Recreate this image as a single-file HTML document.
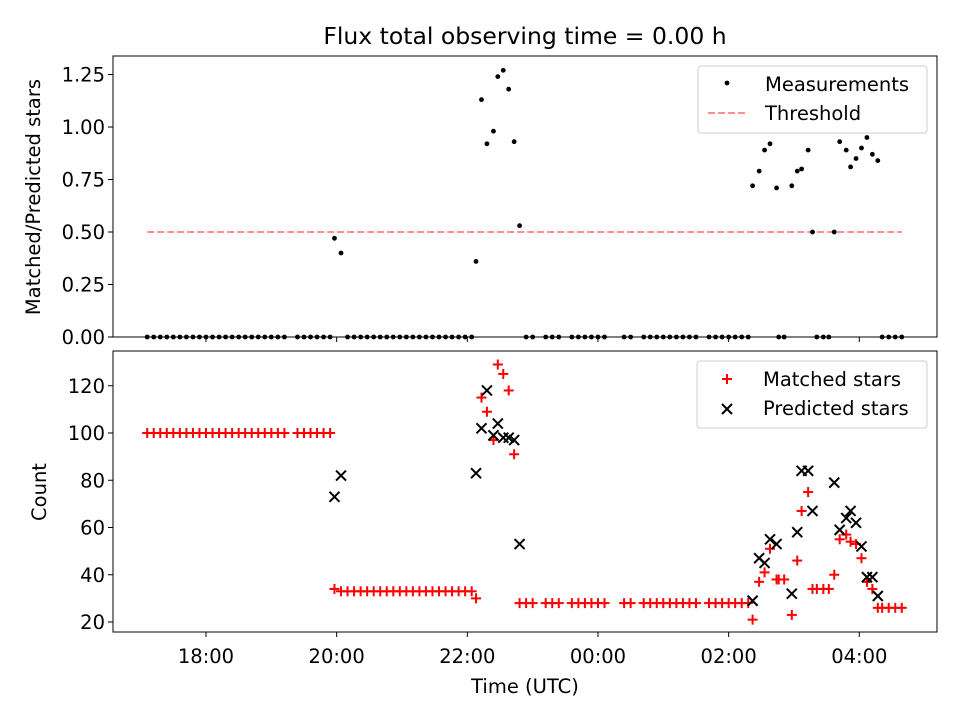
<!DOCTYPE html>
<html><head><meta charset="utf-8"><style>
body{margin:0;background:#fff}
svg{display:block;font-family:"DejaVu Sans","Liberation Sans",sans-serif}
</style></head><body>
<svg id="chart" width="960" height="720" xmlns="http://www.w3.org/2000/svg"></svg>
<script>
// minutes after 18:00 UTC
const times=[-54,-48,-42,-36,-30,-24,-18,-12,-6,0,6,12,18,24,30,36,42,48,54,60,66,72,
84,90,96,102,108,114,118,124,
130,136,142,148,154,160,166,172,178,184,190,196,202,208,214,220,226,232,238,244,
248,253,258,264,268,273,278,283,288,
294,300,312,318,324,336,342,348,354,360,366,
384,390,402,408,414,420,426,432,
438,444,450,462,468,474,480,486,492,498,
502,508,513,518,524,526,531,538,543,547,553,557,561,567,572,577,582,588,592,597,602,607,612,617,621,627,633,639];
const ratio=[0,0,0,0,0,0,0,0,0,0,0,0,0,0,0,0,0,0,0,0,0,0,
0,0,0,0,0,0,0.47,0.40,
0,0,0,0,0,0,0,0,0,0,0,0,0,0,0,0,0,0,0,0,
0.36,1.13,0.92,0.98,1.24,1.27,1.18,0.93,0.53,
0,0,0,0,0,0,0,0,0,0,0,
0,0,0,0,0,0,0,0,
0,0,0,0,0,0,0,0,0,0,
0.72,0.79,0.89,0.92,0.71,0,0,0.72,0.79,0.80,0.89,0.50,0,0,0,0.50,0.93,0.89,0.81,0.85,0.90,0.95,0.87,0.84,0,0,0,0];
const matched=[100,100,100,100,100,100,100,100,100,100,100,100,100,100,100,100,100,100,100,100,100,100,
100,100,100,100,100,100,34,33,
33,33,33,33,33,33,33,33,33,33,33,33,33,33,33,33,33,33,33,33,
30,115,109,97,129,125,118,91,28,
28,28,28,28,28,28,28,28,28,28,28,
28,28,28,28,28,28,28,28,
28,28,28,28,28,28,28,28,28,28,
21,37,41,51,38,38,38,23,46,67,75,34,34,34,34,40,55,57,54,53,47,37,34,26,26,26,26,26];
const predicted=[null,null,null,null,null,null,null,null,null,null,null,null,null,null,null,null,null,null,null,null,null,null,
null,null,null,null,null,null,73,82,
null,null,null,null,null,null,null,null,null,null,null,null,null,null,null,null,null,null,null,null,
83,102,118,99,104,98,98,97,53,
null,null,null,null,null,null,null,null,null,null,null,
null,null,null,null,null,null,null,null,
null,null,null,null,null,null,null,null,null,null,
29,47,45,55,53,null,null,32,58,84,84,67,null,null,null,79,59,64,67,62,52,39,39,31,null,null,null,null];
const xTicks=[0,120,240,360,480,600];
const xTickLabels=["18:00","20:00","22:00","00:00","02:00","04:00"];
const topTicks=[0,0.25,0.5,0.75,1.0,1.25];
const botTicks=[20,40,60,80,100,120];
const threshold=0.5;

const svg=document.getElementById('chart');
const NS='http://www.w3.org/2000/svg';
function el(t,a,p){const e=document.createElementNS(NS,t);for(const k in a)e.setAttribute(k,a[k]);(p||svg).appendChild(e);return e;}
const L=113,R=937,T1=56,B1=337,T2=351,B2=632;
const FS=19.5;
const xs=m=>206+m*65.33/60;
const y1=v=>B1-v*210;
const y2=v=>622-(v-20)*2.3625;

let f=el('rect',{x:L,y:T1,width:R-L,height:B1-T1,fill:'none',stroke:'#000','stroke-width':1});

f=el('rect',{x:L,y:T2,width:R-L,height:B2-T2,fill:'none',stroke:'#000','stroke-width':1});


let t=el('text',{x:525,y:44,'text-anchor':'middle','font-size':23.5});t.textContent='Flux total observing time = 0.00 h';


xTicks.forEach((m,i)=>{
  const x=xs(m);
  el('line',{x1:x,x2:x,y1:B1,y2:B1+5,stroke:'#000'});
  el('line',{x1:x,x2:x,y1:B2,y2:B2+5,stroke:'#000'});
  const tx=el('text',{x:x,y:B2+31,'text-anchor':'middle','font-size':FS});tx.textContent=xTickLabels[i];
  
});
topTicks.forEach(v=>{
  const y=y1(v);el('line',{x1:L-5,x2:L,y1:y,y2:y,stroke:'#000'});
  const tx=el('text',{x:L-8,y:y+7,'text-anchor':'end','font-size':FS});tx.textContent=v.toFixed(2);
  
});
botTicks.forEach(v=>{
  const y=y2(v);el('line',{x1:L-5,x2:L,y1:y,y2:y,stroke:'#000'});
  const tx=el('text',{x:L-8,y:y+7,'text-anchor':'end','font-size':FS});tx.textContent=v;
  
});
t=el('text',{x:0,y:0,'text-anchor':'middle','font-size':FS,transform:'translate(40,197) rotate(-90)'});t.textContent='Matched/Predicted stars';

t=el('text',{x:0,y:0,'text-anchor':'middle','font-size':FS,transform:'translate(46,492) rotate(-90)'});t.textContent='Count';

t=el('text',{x:525,y:693,'text-anchor':'middle','font-size':FS});t.textContent='Time (UTC)';


let th=el('line',{x1:xs(times[0]),x2:xs(times[times.length-1]),y1:y1(threshold),y2:y1(threshold),stroke:'#ff7f7f','stroke-width':1.8,'stroke-dasharray':'7,3'});


function plus(x,y,c,p){const g=el('g',{stroke:c,'stroke-width':2},p);el('line',{x1:x-5,x2:x+5,y1:y,y2:y},g);el('line',{x1:x,x2:x,y1:y-5,y2:y+5},g);return g;}
function cross(x,y,c,p){const g=el('g',{stroke:c,'stroke-width':2},p);el('line',{x1:x-5,x2:x+5,y1:y-5,y2:y+5},g);el('line',{x1:x-5,x2:x+5,y1:y+5,y2:y-5},g);return g;}

times.forEach((m,i)=>{
  const x=xs(m);
  const d=el('circle',{cx:x,cy:y1(ratio[i]),r:2.4,fill:'#000'});
  
  const p=plus(x,y2(matched[i]),'#f00');
  
});
times.forEach((m,i)=>{
  if(predicted[i]===null)return;
  const c=cross(xs(m),y2(predicted[i]),'#000');
  
});

let lg=el('g',{});
el('rect',{x:698,y:66,width:229,height:67,rx:3,fill:'#fff',stroke:'#ccc'},lg);
el('circle',{cx:727,cy:83,r:2.4,fill:'#000'},lg);
t=el('text',{x:765,y:91,'font-size':FS},lg);t.textContent='Measurements';

el('line',{x1:708,x2:746,y1:113,y2:113,stroke:'#ff7f7f','stroke-width':1.8,'stroke-dasharray':'7,3'},lg);
t=el('text',{x:765,y:120,'font-size':FS},lg);t.textContent='Threshold';


lg=el('g',{});
el('rect',{x:697,y:361,width:230,height:67,rx:3,fill:'#fff',stroke:'#ccc'},lg);
plus(727,379,'#f00',lg);
t=el('text',{x:763,y:386,'font-size':FS},lg);t.textContent='Matched stars';

cross(727,409,'#000',lg);
t=el('text',{x:763,y:415,'font-size':FS},lg);t.textContent='Predicted stars';

</script>
</body></html>
